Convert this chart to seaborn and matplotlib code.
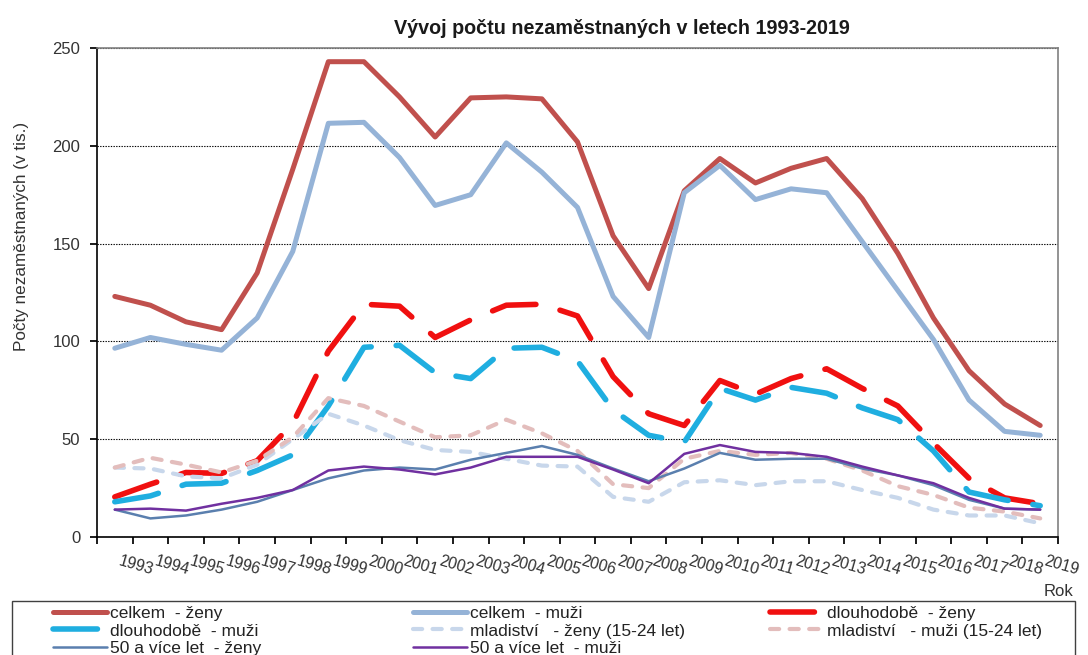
import numpy as np
import matplotlib
matplotlib.use("Agg")
import matplotlib.pyplot as plt
import seaborn as sns
from matplotlib.patches import Rectangle

# ---------------- data ----------------
years = list(range(1993, 2020))
year_labels = [str(y) for y in years]

celkem_zeny = [123, 118.5, 110, 106, 135, 188, 243, 243, 225, 204.5, 224.5, 225, 224, 202,
               154, 127, 177, 193.5, 181, 188.5, 193.5, 173, 145, 112, 85, 68, 57]
celkem_muzi = [96.5, 102, 98.5, 95.5, 112, 146, 211.5, 212, 194, 169.5, 175, 201.5, 186.5, 168.5,
               123, 102, 176, 190, 172.5, 178, 176, 151, 126, 101, 70, 54, 52]
dlouho_zeny = [20.5, 27, 33, 32.5, 39, 58, 95, 119, 118, 102, 111, 118.5, 119, 113,
               82, 63, 57, 80, 73, 81, 86, 76, 67, 48, 30, 20, 17]
dlouho_muzi = [18, 21, 27, 27.5, 34, 42, 67, 97, 98, 84, 81, 96.5, 97, 90,
               65, 52, 48.5, 76, 70, 76.5, 73.5, 66, 60, 44, 23, 19, 16]
mlad_zeny = [35.5, 35, 31, 30, 37, 50, 63, 57, 49.5, 44.5, 43.5, 40, 36.5, 36,
             20.5, 18, 28, 29, 26.5, 28.5, 28.5, 24, 20, 14, 11, 11, 7]
mlad_muzi = [35.5, 40.5, 37, 33, 39, 51, 71, 67, 59, 51, 52, 60, 53, 44,
             27, 25, 40, 44, 42, 43, 40, 34, 26, 21.5, 15, 13, 9.5]
star_zeny = [14, 9.5, 11, 14, 18, 24, 30, 34, 35.5, 34.5, 39.5, 43, 46.5, 42,
             35, 28.5, 35, 43, 39.5, 40, 40, 35, 31.5, 26.5, 19, 14.5, 14]
star_muzi = [14, 14.5, 13.5, 17, 20, 24, 34, 36, 34.5, 32, 35.5, 41, 41, 41,
             34.5, 27.5, 42.5, 47, 43.5, 43, 41, 36, 31.5, 27.5, 20, 14.5, 14]

series_labels = ["celkem  - ženy", "celkem  - muži", "dlouhodobě  - ženy", "dlouhodobě  - muži",
                 "mladiství   - ženy (15-24 let)", "mladiství   - muži (15-24 let)",
                 "50 a více let  - ženy", "50 a více let  - muži"]
series_values = [celkem_zeny, celkem_muzi, dlouho_zeny, dlouho_muzi,
                 mlad_zeny, mlad_muzi, star_zeny, star_muzi]

title = "Vývoj počtu nezaměstnaných v letech 1993-2019"
ylabel = "Počty nezaměstnaných (v tis.)"
xlabel = "Rok"

# ---------------- styles ----------------
styles = [
    dict(color="#C0504D", linewidth=3.6, linestyle="-", solid_capstyle="round"),
    dict(color="#95B3D7", linewidth=3.6, linestyle="-", solid_capstyle="round"),
    dict(color="#F01010", linewidth=4.0, linestyle=(0, (8, 4.5)), dash_capstyle="round"),
    dict(color="#1FAEE0", linewidth=4.0, linestyle=(0, (8, 4.5)), dash_capstyle="round"),
    dict(color="#C8D7EB", linewidth=3.0, linestyle=(0, (2.2, 2.5)), dash_capstyle="round"),
    dict(color="#E3BDBC", linewidth=3.0, linestyle=(0, (2.2, 2.5)), dash_capstyle="round"),
    dict(color="#5A7FAE", linewidth=1.8, linestyle="-"),
    dict(color="#7030A0", linewidth=1.8, linestyle="-"),
]

sns.set_theme(style="white")
plt.rcParams["font.family"] = ["Liberation Sans", "DejaVu Sans"]

W, H = 1088, 655
fig = plt.figure(figsize=(W / 100, H / 100), dpi=100)
ax = fig.add_axes([97 / W, 1 - 537 / H, (1058 - 97) / W, (537 - 48) / H])

pos = np.arange(len(years))
lines = []
for vals, lab, st in zip(series_values, series_labels, styles):
    sns.lineplot(x=pos, y=vals, ax=ax, label=lab, legend=False, **st)
    lines.append(ax.lines[-1])

ax.set_xlim(-0.5, len(years) - 0.5)
ax.set_ylim(0, 250)
ax.set_xlabel("")
ax.set_ylabel("")

# y axis
ax.set_yticks(np.arange(0, 251, 50))
ax.tick_params(axis="y", which="major", length=5, direction="out", color="black",
               labelsize=12, labelcolor="#333333", pad=7, left=True)
ax.yaxis.grid(True, linestyle=(0, (1.2, 1.2)), color="black", linewidth=0.8)
ax.xaxis.grid(False)
ax.set_axisbelow(True)

# x axis: ticks at category boundaries, labels placed via text
ax.set_xticks(np.arange(-0.5, len(years), 1))
ax.set_xticklabels([])
ax.tick_params(axis="x", which="major", length=5, direction="out", color="black", bottom=True)
for i, lab in enumerate(year_labels):
    ax.text(i + 0.6, -0.058, lab, transform=ax.get_xaxis_transform(), rotation=-16,
            ha="center", va="center", fontsize=11.5, color="#333333", clip_on=False)

for side in ["left", "bottom"]:
    ax.spines[side].set_color("black")
    ax.spines[side].set_linewidth(1.2)
for side in ["top", "right"]:
    ax.spines[side].set_color("#808080")
    ax.spines[side].set_linewidth(1.2)

# texts
fig.text(622 / W, 1 - 28 / H, title, ha="center", va="center", fontsize=14.2,
         fontweight="bold", color="#1a1a1a")
fig.text(22 / W, 1 - 236 / H, ylabel, rotation=90, ha="center", va="center",
         fontsize=12.3, color="#333333")
fig.text(1073 / W, 1 - 591 / H, xlabel, ha="right", va="center", fontsize=12, color="#333333")

# legend (three columns inside one frame, cut by the figure edge)
frame = Rectangle((12 / W, -0.05), (1075 - 12) / W, (1 - 601 / H) + 0.05,
                  transform=fig.transFigure, fill=False, edgecolor="#404040", linewidth=1.0)
fig.add_artist(frame)
col_x = [53, 413, 770]
col_idx = [[0, 3, 6], [1, 4, 7], [2, 5]]
for cx, idx in zip(col_x, col_idx):
    fig.legend(handles=[lines[k] for k in idx], labels=[series_labels[k] for k in idx],
               loc="upper left", bbox_to_anchor=(cx / W, 1 - 606 / H),
               bbox_transform=fig.transFigure, frameon=False, borderpad=0,
               borderaxespad=0, handlelength=3.1, handletextpad=0.2,
               labelspacing=0.13, fontsize=12.5, labelcolor="#222222")

fig.savefig("out.png", dpi=100)
